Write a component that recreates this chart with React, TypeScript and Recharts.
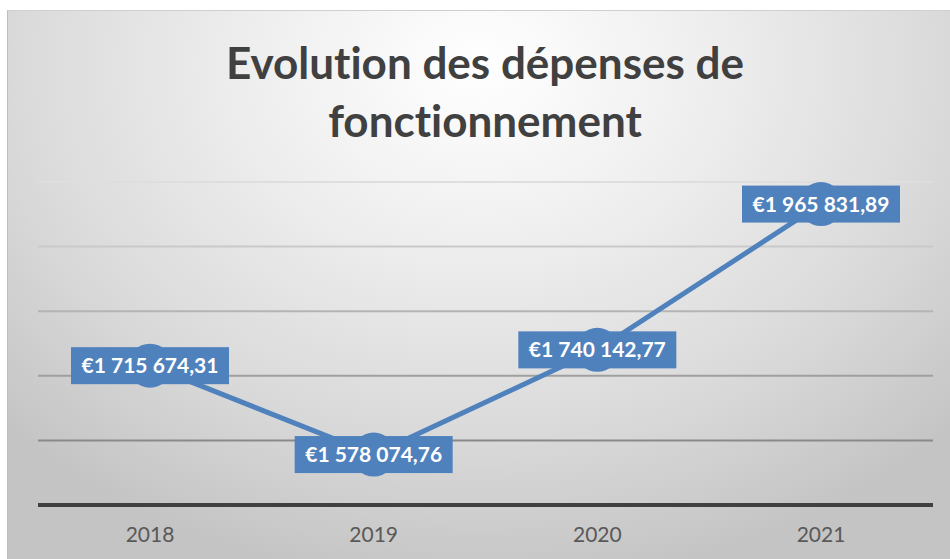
import React from 'react';
import { LineChart, Line, XAxis, YAxis, CartesianGrid, LabelList } from 'recharts';

const years = ['2018', '2019', '2020', '2021'];
const depenses = [1715674.31, 1578074.76, 1740142.77, 1965831.89];
const yTicks = [1500000, 1600000, 1700000, 1800000, 1900000, 2000000];

const data = years.map((year, i) => ({ year, value: depenses[i] }));

const BLUE = '#4F81BD';
const FONT = 'Lato, "Open Sans", sans-serif';
// gridlines get lighter towards the top (bottom first)
const gridColors = ['#404040', '#8a8a8a', '#9f9f9f', '#b4b4b4', '#c9c9c9', '#dedede'];

const euro = (v: number) => {
    const [int, dec] = v.toFixed(2).split('.');
    return '€' + int.replace(/\B(?=(\d{3})+(?!\d))/g, ' ') + ',' + dec;
};

const ValueLabel = (props: any) => {
    const { x, y, value } = props;
    const w = 158;
    const h = 37;
    return (
        <g>
            <rect x={x - w / 2} y={y - h / 2} width={w} height={h} fill={BLUE} />
            <text x={x} y={y + 7.5} textAnchor="middle" fill="#ffffff" fontFamily={FONT} fontWeight={700} fontSize={21}>
                {euro(value)}
            </text>
        </g>
    );
};

const GridLine = (props: any) => {
    const { x1, x2, y1, y2, index } = props;
    if (index === 0) return <g />;
    return <line x1={x1} x2={x2} y1={y1} y2={y2} stroke={gridColors[index] || '#c0c0c0'} strokeWidth={2} />;
};

export default function App() {
    return (
        <div style={{ position: 'absolute', left: 0, top: 0, width: 950, height: 559, background: '#ffffff', overflow: 'hidden' }}>
            <div
                style={{
                    position: 'absolute',
                    left: 7,
                    top: 10,
                    width: 943,
                    height: 549,
                    borderLeft: '1px solid #bdbdbd',
                    borderTop: '1px solid #cfcfcf',
                    background: 'radial-gradient(ellipse 70% 95% at 50% 10%, #ffffff 0%, #eeeeee 35%, #dadada 70%, #c4c4c4 100%)',
                }}
            />
            <div
                style={{
                    position: 'absolute',
                    left: 7,
                    top: 33,
                    width: 956,
                    textAlign: 'center',
                    fontFamily: FONT,
                    fontWeight: 700,
                    fontSize: 44,
                    lineHeight: '58px',
                    color: '#404040',
                    fontVariantLigatures: 'none',
                }}
            >
                Evolution des dépenses de
                <br />
                fonctionnement
            </div>
            <div style={{ position: 'absolute', left: 0, top: 0 }}>
                <LineChart width={950} height={559} data={data} margin={{ top: 182, right: 17, bottom: 14, left: 38 }}>
                    <CartesianGrid vertical={false} horizontal={GridLine} />
                    <XAxis
                        dataKey="year"
                        height={40}
                        padding={{ left: 112, right: 112 }}
                        axisLine={{ stroke: '#404040', strokeWidth: 4 }}
                        tickLine={false}
                        tickSize={0}
                        tickMargin={22}
                        tick={{ fill: '#595959', fontSize: 21, fontFamily: FONT }}
                    />
                    <YAxis hide domain={[1500000, 2000000]} ticks={yTicks} />
                    <Line
                        type="linear"
                        dataKey="value"
                        stroke={BLUE}
                        strokeWidth={5}
                        dot={{ r: 22, fill: BLUE, stroke: BLUE, strokeWidth: 0 }}
                        activeDot={false}
                        isAnimationActive={false}
                    >
                        <LabelList dataKey="value" content={ValueLabel} />
                    </Line>
                </LineChart>
            </div>
        </div>
    );
}
